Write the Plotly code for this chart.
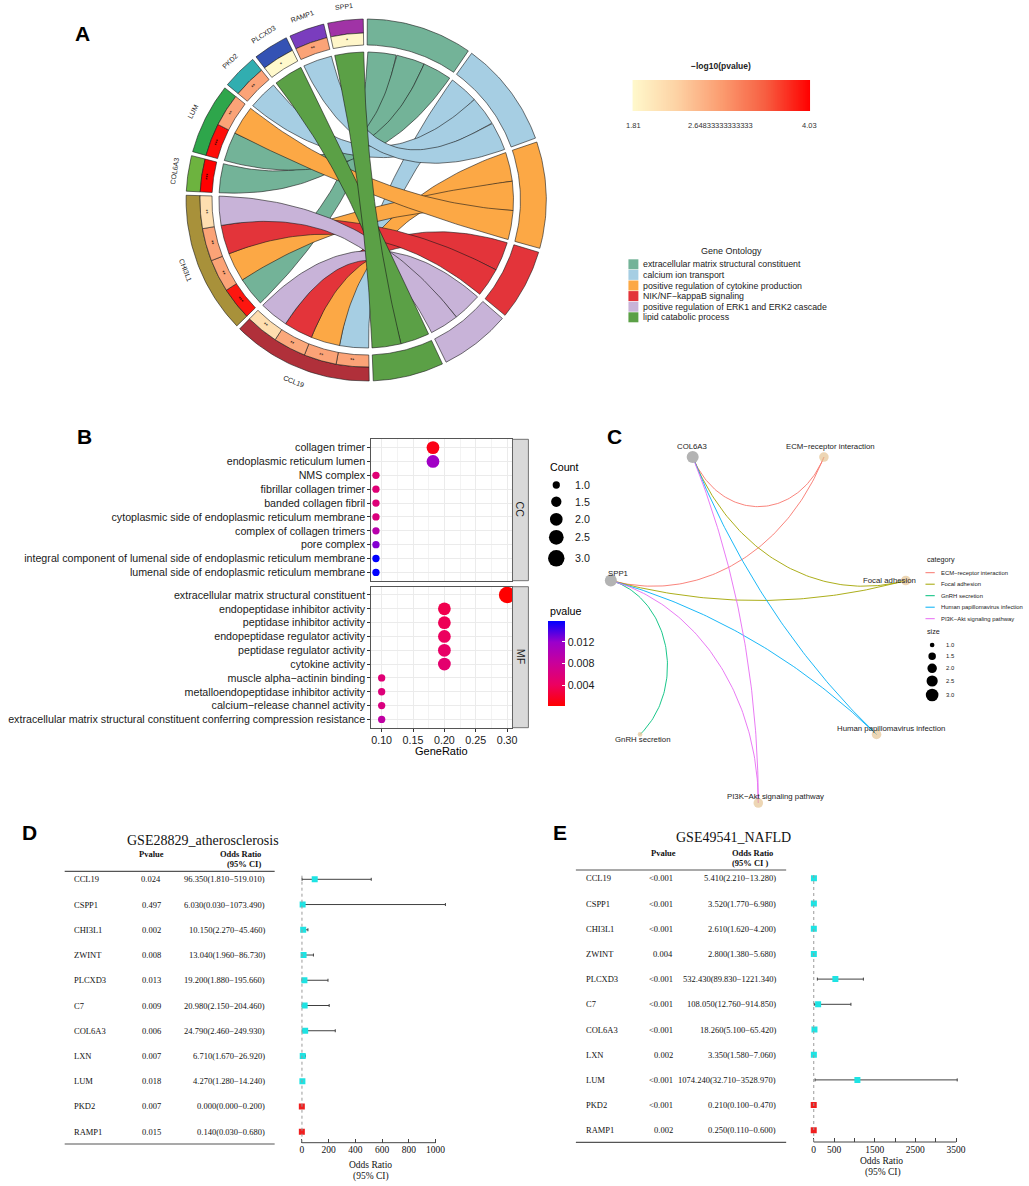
import numpy as np
import plotly.graph_objects as go

W, H = 1029, 1186
SANS = "Liberation Sans, Arial, sans-serif"
SERIF = "Liberation Serif, Times New Roman, serif"


def PX(x):
    return x / W


def PY(y):
    return 1 - y / H


def DX(a, b):
    return [a / W, b / W]


def DY(top, bot):
    return [1 - bot / H, 1 - top / H]


# ======================= Panel A data (GOChord) =======================
chord_genes = ["CCL19", "CHI3L1", "COL6A3", "LUM", "PKD2", "PLCXD3", "RAMP1", "SPP1"]
chord_gene_colors = ["#B0303A", "#A8913A", "#6DB33F", "#2EA64B", "#31AEB0", "#3452B4", "#7A3DBE", "#A033A6"]
go_terms = ["extracellular matrix structural constituent", "calcium ion transport",
            "positive regulation of cytokine production", "NIK/NF\u2212kappaB signaling",
            "positive regulation of ERK1 and ERK2 cascade", "lipid catabolic process"]
go_colors = ["#73B398", "#A6CEE3", "#FCA845", "#E3343A", "#C8B3D8", "#5BA046"]
link_gene = ["CCL19", "CCL19", "CCL19", "CCL19", "CHI3L1", "CHI3L1", "CHI3L1", "CHI3L1",
             "COL6A3", "LUM", "LUM", "PKD2", "PLCXD3", "RAMP1", "SPP1"]
link_term = [1, 2, 3, 4, 0, 2, 3, 4, 0, 0, 2, 1, 5, 1, 5]
link_logp = [2.85, 2.85, 2.80, 2.20, 3.90, 2.85, 2.85, 2.20, 4.03, 3.95, 2.85, 2.85, 1.81, 2.85, 1.85]
link_stars = ["**", "**", "**", "**", "***", "**", "**", "**", "***", "***", "**", "**", "*", "**", "*"]
logp_ticks = ["1.81", "2.64833333333333", "4.03"]

# ======================= Panel B data (dotplot) =======================
cc_terms = ["collagen trimer", "endoplasmic reticulum lumen", "NMS complex", "fibrillar collagen trimer",
            "banded collagen fibril", "cytoplasmic side of endoplasmic reticulum membrane",
            "complex of collagen trimers", "pore complex",
            "integral component of lumenal side of endoplasmic reticulum membrane",
            "lumenal side of endoplasmic reticulum membrane"]
cc_count = [2, 2, 1, 1, 1, 1, 1, 1, 1, 1]
cc_total = 11
cc_p = [0.0010, 0.0115, 0.0055, 0.0055, 0.0057, 0.0060, 0.0095, 0.0125, 0.0159, 0.0159]
mf_terms = ["extracellular matrix structural constituent", "endopeptidase inhibitor activity",
            "peptidase inhibitor activity", "endopeptidase regulator activity", "peptidase regulator activity",
            "cytokine activity", "muscle alpha\u2212actinin binding", "metalloendopeptidase inhibitor activity",
            "calcium\u2212release channel activity",
            "extracellular matrix structural constituent conferring compression resistance"]
mf_count = [3, 2, 2, 2, 2, 2, 1, 1, 1, 1]
mf_total = 10
mf_p = [0.0001, 0.0033, 0.0036, 0.0040, 0.0045, 0.0050, 0.0055, 0.0058, 0.0062, 0.0088]
count_legend = [1.0, 1.5, 2.0, 2.5, 3.0]
p_ticks = [0.004, 0.008, 0.012]

# ======================= Panel C data (cnetplot) =======================
kegg_terms = ["ECM\u2212receptor interaction", "Focal adhesion", "GnRH secretion",
              "Human papillomavirus infection", "PI3K\u2212Akt signaling pathway"]
kegg_colors = ["#F8766D", "#A3A500", "#00BF7D", "#00B0F6", "#E76BF3"]
kegg_members = [["COL6A3", "SPP1"], ["COL6A3", "SPP1"], ["SPP1"], ["COL6A3", "SPP1"], ["COL6A3", "SPP1"]]
cnet_genes = ["COL6A3", "SPP1"]
circle_order = ["PI3K\u2212Akt signaling pathway", "Human papillomavirus infection", "Focal adhesion",
                "ECM\u2212receptor interaction", "COL6A3", "SPP1", "GnRH secretion"]
size_legend = [1.0, 1.5, 2.0, 2.5, 3.0]

# ======================= Panels D / E data (forest) =======================
fp_genes = ["CCL19", "CSPP1", "CHI3L1", "ZWINT", "PLCXD3", "C7", "COL6A3", "LXN", "LUM", "PKD2", "RAMP1"]
d_p = ["0.024", "0.497", "0.002", "0.008", "0.013", "0.009", "0.006", "0.007", "0.018", "0.007", "0.015"]
d_or = [96.35, 6.03, 10.15, 13.04, 19.20, 20.98, 24.79, 6.71, 4.27, 0.000, 0.14]
d_lo = [1.81, 0.03, 2.27, 1.96, 1.88, 2.15, 2.46, 1.67, 1.28, 0.000, 0.03]
d_hi = [519.01, 1073.49, 45.46, 86.73, 195.66, 204.46, 249.93, 26.92, 14.24, 0.200, 0.68]
d_ticks = [0, 200, 400, 600, 800, 1000]
e_p = ["<0.001", "<0.001", "<0.001", "0.004", "<0.001", "<0.001", "<0.001", "0.002", "<0.001", "<0.001", "0.002"]
e_or = [5.41, 3.52, 2.61, 2.80, 532.43, 108.05, 18.26, 3.35, 1074.24, 0.21, 0.25]
e_lo = [2.21, 1.77, 1.62, 1.38, 89.83, 12.76, 5.10, 1.58, 32.71, 0.10, 0.11]
e_hi = [13.28, 6.98, 4.20, 5.68, 1221.34, 914.85, 65.42, 7.06, 3528.97, 0.47, 0.60]
e_ticks = [0, 500, 1000, 1500, 2000, 2500, 3000, 3500]
e_ticktext = ["0", "500", "", "1500", "", "2500", "", "3500"]

# ======================= helpers =======================
fig = go.Figure()
ann = []
shapes = []


def hex2rgb(h):
    h = h.lstrip("#")
    return [int(h[i:i + 2], 16) for i in (0, 2, 4)]


def interp_color(scale, t):
    t = min(max(t, 0), 1)
    for (p0, c0), (p1, c1) in zip(scale[:-1], scale[1:]):
        if t <= p1:
            f = 0 if p1 == p0 else (t - p0) / (p1 - p0)
            a, b = hex2rgb(c0), hex2rgb(c1)
            return "rgb(%d,%d,%d)" % tuple(round(a[i] + (b[i] - a[i]) * f) for i in range(3))
    return scale[-1][1]


def txt(x, y, s, size, color="#000000", family=SANS, xanchor="center", yanchor="middle",
        angle=0, xref="paper", yref="paper", xshift=0, yshift=0):
    ann.append(dict(x=x, y=y, text=s, showarrow=False, xref=xref, yref=yref, xanchor=xanchor,
                    yanchor=yanchor, textangle=angle, xshift=xshift, yshift=yshift,
                    font=dict(size=size, color=color, family=family)))


def ptxt(xp, yp, s, size, **kw):
    txt(PX(xp), PY(yp), s, size, **kw)


# ======================= Panel A: chord =======================
csA = [[0, "#FFF9CC"], [0.25, "#FDD2A4"], [0.5, "#FB9C70"], [0.75, "#F75E41"], [1, "#FF0000"]]
vmin, vmax = min(link_logp), max(link_logp)
R_OUT, R_MID, R_IN, R_RIB = 181, 167, 155, 148
GAP = 1.3
START = 270.95
n_links = len(link_gene)
unit = (360 - GAP * (len(chord_genes) + len(go_terms))) / (2 * n_links)


def arcpts(r, a0, a1, n=40):
    t = np.radians(np.linspace(a0, a1, n))
    return r * np.cos(t), r * np.sin(t)


def sector(r0, r1, a0, a1):
    xo, yo = arcpts(r1, a0, a1)
    xi, yi = arcpts(r0, a1, a0)
    return np.r_[xo, xi, xo[:1]], np.r_[yo, yi, yo[:1]]


ang = START
gene_units, gene_span = {}, []
for gname in chord_genes:
    idx = sorted([i for i in range(n_links) if link_gene[i] == gname], key=lambda i: link_term[i])
    hi = ang
    for i in idx:
        gene_units[i] = (ang, ang - unit)
        ang -= unit
    gene_span.append((hi, ang))
    ang -= GAP
term_slots, term_span = {}, []
for t in range(len(go_terms)):
    idx = sorted([i for i in range(n_links) if link_term[i] == t],
                 key=lambda i: chord_genes.index(link_gene[i]))
    hi = ang
    for i in idx:
        term_slots[i] = (ang, ang - unit)
        ang -= unit
    term_span.append((hi, ang))
    ang -= GAP


def fill_trace(x, y, color, lw=0.6, axis=("x", "y")):
    fig.add_trace(go.Scatter(x=x, y=y, mode="lines", fill="toself", fillcolor=color,
                             line=dict(color="#1a1a1a", width=lw), xaxis=axis[0], yaxis=axis[1],
                             hoverinfo="skip", showlegend=False))


s = np.linspace(0, 1, 60)
for i in sorted(range(n_links), key=lambda k: (link_term[k], k)):
    g0, g1 = gene_units[i]
    t0, t1 = term_slots[i]
    x1, y1 = arcpts(R_RIB, g0, g1)
    x3, y3 = arcpts(R_RIB, t0, t1)
    bx = (1 - s) ** 2 * x1[-1] + s ** 2 * x3[0]
    by = (1 - s) ** 2 * y1[-1] + s ** 2 * y3[0]
    dx = (1 - s) ** 2 * x3[-1] + s ** 2 * x1[0]
    dy = (1 - s) ** 2 * y3[-1] + s ** 2 * y1[0]
    fill_trace(np.r_[x1, bx, x3, dx], np.r_[y1, by, y3, dy], go_colors[link_term[i]], lw=0.6)

for k, (a0, a1) in enumerate(gene_span):
    x, y = sector(R_MID, R_OUT, a0, a1)
    fill_trace(x, y, chord_gene_colors[k])
for i in range(n_links):
    a0, a1 = gene_units[i]
    x, y = sector(R_IN, R_MID, a0, a1)
    fill_trace(x, y, interp_color(csA, (link_logp[i] - vmin) / (vmax - vmin)))
for k, (a0, a1) in enumerate(term_span):
    x, y = sector(R_IN, R_OUT, a0, a1)
    fill_trace(x, y, go_colors[k])


def tangent_angle(theta):
    theta = theta % 360
    return 90 - theta if theta <= 180 else 270 - theta


for k, (a0, a1) in enumerate(gene_span):
    m = (a0 + a1) / 2
    txt(195 * np.cos(np.radians(m)), 195 * np.sin(np.radians(m)), chord_genes[k], 7,
        color="#222222", xref="x", yref="y", angle=tangent_angle(m))
for i in range(n_links):
    m = sum(gene_units[i]) / 2
    txt(161 * np.cos(np.radians(m)), 161 * np.sin(np.radians(m)), link_stars[i], 5.5,
        xref="x", yref="y", angle=tangent_angle(m))

# colour bar for -log10(pvalue)
grad = np.linspace(vmin, vmax, 256)
fig.add_trace(go.Heatmap(z=[grad], x=grad, y=[0.5], xaxis="x2", yaxis="y2", showscale=False,
                         zmin=vmin, zmax=vmax, colorscale=csA, hoverinfo="skip"))
ptxt(724.7, 66, "<b>\u2212log10(pvalue)</b>", 8.5, color="#222222")
for xp, lab in zip([637, 724.4, 813.6], logp_ticks):
    ptxt(xp, 125, lab, 7.5, color="#333333")

# Gene Ontology legend
ptxt(735, 250.7, "Gene Ontology", 9, color="#222222")
for k, name in enumerate(go_terms):
    yc = 264.3 + 10.6 * k
    shapes.append(dict(type="rect", xref="paper", yref="paper", x0=PX(631.5), x1=PX(641.5),
                       y0=PY(yc + 5), y1=PY(yc - 5), fillcolor=go_colors[k], line=dict(width=0)))
    ptxt(644.5, yc, name, 8.8, color="#222222", xanchor="left")

# ======================= Panel B: dot plot =======================
cs_p = [[0, "#FF0000"], [0.25, "#EC0060"], [0.5, "#CA0099"], [0.75, "#9B00CB"], [1, "#0000FF"]]
D_MIN, D_MAX = 7.3, 16.5
B_FONT = 10.7


def dot_diam(c):
    return np.sqrt(D_MIN ** 2 + (D_MAX ** 2 - D_MIN ** 2) * (np.asarray(c, float) - 1) / 2)


for terms_, cnt, tot, pv, ax in [(cc_terms, cc_count, cc_total, cc_p, ("x3", "y3")),
                                  (mf_terms, mf_count, mf_total, mf_p, ("x4", "y4"))]:
    fig.add_trace(go.Scatter(x=np.array(cnt) / tot, y=terms_, mode="markers", xaxis=ax[0], yaxis=ax[1],
                             marker=dict(size=dot_diam(cnt), color=pv, coloraxis="coloraxis", line_width=0,
                                         opacity=1),
                             hoverinfo="skip", showlegend=False))

for (top, bot), lab in [((439.3, 580.7), "CC"), ((586.7, 727.7), "MF")]:
    shapes.append(dict(type="rect", xref="paper", yref="paper", x0=PX(515), x1=PX(531), y0=PY(bot),
                       y1=PY(top), fillcolor="#D9D9D9", line=dict(color="#555555", width=0.8)))
    ptxt(523, (top + bot) / 2, lab, B_FONT, color="#1a1a1a", angle=90)

ptxt(444, 751, "GeneRatio", 11, color="#000000")
ptxt(551, 466.7, "Count", B_FONT, xanchor="left")
for k, c in enumerate(count_legend):
    yc = [485, 501.7, 519.3, 537.3, 558.3][k]
    d = float(dot_diam(c))
    shapes.append(dict(type="circle", xref="paper", yref="paper", x0=PX(559 - d / 2), x1=PX(559 + d / 2),
                       y0=PY(yc + d / 2), y1=PY(yc - d / 2), fillcolor="black", line=dict(width=0)))
    ptxt(576, yc, "%.1f" % c, B_FONT, color="#1a1a1a", xanchor="left")
ptxt(551, 611, "pvalue", B_FONT, xanchor="left")

all_p = cc_p + mf_p

# ======================= Panel C: cnet plot =======================
n_nodes = len(circle_order)
node_ang = {name: np.radians(-90 + 360 * k / n_nodes) for k, name in enumerate(circle_order)}


def geodesic(a1, a2, n=90):
    d = (a2 - a1 + np.pi) % (2 * np.pi) - np.pi
    p1 = np.array([np.cos(a1), np.sin(a1)])
    p2 = np.array([np.cos(a2), np.sin(a2)])
    if abs(abs(d) - np.pi) < 1e-6:
        t = np.linspace(0, 1, n)
        return p1[0] + (p2[0] - p1[0]) * t, p1[1] + (p2[1] - p1[1]) * t
    m = a1 + d / 2
    h = abs(d) / 2
    c = np.array([np.cos(m), np.sin(m)]) / np.cos(h)
    rad = np.tan(h)
    f1 = np.arctan2(p1[1] - c[1], p1[0] - c[0])
    f2 = np.arctan2(p2[1] - c[1], p2[0] - c[0])
    df = (f2 - f1 + np.pi) % (2 * np.pi) - np.pi
    f = f1 + df * np.linspace(0, 1, n)
    return c[0] + rad * np.cos(f), c[1] + rad * np.sin(f)


for k, term in enumerate(kegg_terms):
    for gname in kegg_members[k]:
        ex, ey = geodesic(node_ang[gname], node_ang[term])
        fig.add_trace(go.Scatter(x=ex, y=ey, mode="lines", line=dict(color=kegg_colors[k], width=0.9),
                                 xaxis="x5", yaxis="y5", hoverinfo="skip", showlegend=False))

C_MIN, C_MAX = 4.7, 12.7


def cnet_diam(c):
    return np.sqrt(C_MIN ** 2 + (C_MAX ** 2 - C_MIN ** 2) * (np.asarray(c, float) - 1) / 2)


cat_counts = [len(m) for m in kegg_members]
fig.add_trace(go.Scatter(x=[np.cos(node_ang[t]) for t in kegg_terms], y=[np.sin(node_ang[t]) for t in kegg_terms],
                         mode="markers", marker=dict(size=cnet_diam(cat_counts), color="#E6C494", line_width=0),
                         xaxis="x5", yaxis="y5", hoverinfo="skip", showlegend=False))
fig.add_trace(go.Scatter(x=[np.cos(node_ang[g]) for g in cnet_genes], y=[np.sin(node_ang[g]) for g in cnet_genes],
                         mode="markers", marker=dict(size=12, color="#B3B3B3", line_width=0),
                         xaxis="x5", yaxis="y5", hoverinfo="skip", showlegend=False))
label_off = {"COL6A3": (-1, -10.5), "SPP1": (7.5, -7), "ECM\u2212receptor interaction": (7, -10.5),
             "Focal adhesion": (-16, -0.5), "Human papillomavirus infection": (14.5, -5.5),
             "GnRH secretion": (2.5, 5), "PI3K\u2212Akt signaling pathway": (17, -6)}
for name in circle_order:
    ox, oy = label_off[name]
    txt(np.cos(node_ang[name]), np.sin(node_ang[name]), name, 7.8, color="#1a1a1a", xref="x5", yref="y5",
        xshift=ox, yshift=-oy)

ptxt(930, 560, "category", 7.2, xanchor="left", color="#1a1a1a")
for k, term in enumerate(kegg_terms):
    yc = 572.7 + 11.5 * k
    shapes.append(dict(type="line", xref="paper", yref="paper", x0=PX(930), x1=PX(939.3), y0=PY(yc), y1=PY(yc),
                       line=dict(color=kegg_colors[k], width=1)))
    ptxt(944, yc, term, 5.9, xanchor="left", color="#1a1a1a")
ptxt(930, 631.7, "size", 7.2, xanchor="left", color="#1a1a1a")
for k, c in enumerate(size_legend):
    yc = [645, 656.3, 668.3, 681, 695][k]
    d = float(cnet_diam(c))
    shapes.append(dict(type="circle", xref="paper", yref="paper", x0=PX(936.7 - d / 2), x1=PX(936.7 + d / 2),
                       y0=PY(yc + d / 2), y1=PY(yc - d / 2), fillcolor="black", line=dict(width=0)))
    ptxt(948.3, yc, "%.1f" % c, 5.9, xanchor="left", color="#1a1a1a")


# ======================= Panels D / E: forest plots =======================
def forest(ax, p_, or_, lo_, hi_, title, ticks, ticktext, g):
    xa, ya = "x%d" % ax, "y%d" % ax
    or_a, lo_a, hi_a = np.array(or_), np.array(lo_), np.array(hi_)
    rows = np.arange(len(fp_genes))
    up = or_a >= 1
    for mask, col in [(up, "#1EE3E3"), (~up, "#F01E1E")]:
        fig.add_trace(go.Scatter(x=or_a[mask], y=rows[mask], xaxis=xa, yaxis=ya, mode="markers",
                                 marker=dict(symbol="square", size=6, color=col, line_width=0),
                                 error_x=dict(type="data", symmetric=False, array=(hi_a - or_a)[mask],
                                              arrayminus=(or_a - lo_a)[mask], color="#404040", thickness=1,
                                              width=1.5),
                                 hoverinfo="skip", showlegend=False))
    shapes.append(dict(type="line", xref=xa, yref="paper", x0=1, x1=1, y0=PY(g["bot"]), y1=PY(g["reftop"]),
                       line=dict(color="#9A9A9A", width=1, dash="dot")))
    shapes.append(dict(type="line", xref=xa, yref=ya + " domain", x0=ticks[0], x1=ticks[-1], y0=0, y1=0,
                       line=dict(color="#444444", width=1)))
    # table
    ptxt(g["title"][0], g["title"][1], title, 14, family=SERIF, color="#111111")
    ptxt(g["ph"][0], g["ph"][1], "<b>Pvalue</b>", 8.5, family=SERIF, color="#111111")
    ptxt(g["oh"][0], g["oh"][1], "<b>Odds Ratio</b>", 8.5, family=SERIF, color="#111111")
    ptxt(g["ci"][0], g["ci"][1], "<b>%s</b>" % g["ci_text"], 8.5, family=SERIF, color="#111111")
    for yl in (g["ltop"], g["lbot"]):
        shapes.append(dict(type="line", xref="paper", yref="paper", x0=PX(g["lx"][0]), x1=PX(g["lx"][1]),
                           y0=PY(yl), y1=PY(yl), line=dict(color="#555555", width=1.2)))
    for r, gname in enumerate(fp_genes):
        txt(PX(g["gx"]), r, gname, 8.5, family=SERIF, color="#111111", xanchor="left", yref=ya)
        txt(PX(g["px"]), r, p_[r], 8.5, family=SERIF, color="#111111", xanchor="right", yref=ya)
        txt(PX(g["orx"]), r, "%.3f(%.3f\u2212%.3f)" % (or_[r], lo_[r], hi_[r]), 8.5, family=SERIF,
            color="#111111", xanchor="right", yref=ya)
    ptxt(g["xl"][0], g["xl"][1], "Odds Ratio", 9.5, family=SERIF, color="#111111")
    ptxt(g["xl"][0] + 1, g["xl"][1] + 11.5, "(95% CI)", 9.5, family=SERIF, color="#111111")


geomD = dict(title=(204.3, 840), ph=(152, 854), oh=(241.7, 854), ci=(244.7, 864.3), ci_text="(95% CI)",
             lx=(65, 276), ltop=871.3, lbot=1144, gx=72.7, px=164, orx=268.3, bot=1142.7, reftop=874,
             xl=(372, 1165))
geomE = dict(title=(737.5, 837.7), ph=(666.7, 853), oh=(756.3, 853), ci=(753.8, 863.3), ci_text="(95% CI )",
             lx=(578.7, 790), ltop=870, lbot=1142.3, gx=587.3, px=678.3, orx=782.3, bot=1142, reftop=873,
             xl=(886, 1161))
forest(6, d_p, d_or, d_lo, d_hi, "GSE28829_atherosclerosis", d_ticks, [str(v) for v in d_ticks], geomD)
forest(7, e_p, e_or, e_lo, e_hi, "GSE49541_NAFLD", e_ticks, e_ticktext, geomE)

# panel letters
for lab, xp, yp in [("A", 83.3, 33.3), ("B", 84.6, 436.7), ("C", 617.7, 436.7), ("D", 30, 832.3), ("E", 563, 832)]:
    ptxt(xp, yp, "<b>%s</b>" % lab, 21, color="#000000")

# ======================= layout =======================
hid = dict(visible=False, fixedrange=True, showgrid=False, zeroline=False)
cat_y = dict(type="category", categoryorder="array", showgrid=True, gridcolor="#EBEBEB", gridwidth=0.8,
             ticks="outside", ticklen=3, tickcolor="#333333",
             tickfont=dict(size=B_FONT, family=SANS, color="#1a1a1a"),
             showline=True, mirror=True, linecolor="#555555", linewidth=0.8, zeroline=False, range=[9.6, -0.6])
geneRatio_x = dict(range=[0.0833, 0.3086], tick0=0.1, dtick=0.05, showgrid=True, gridcolor="#EBEBEB", gridwidth=0.8,
                   minor=dict(dtick=0.025, showgrid=True, gridcolor="#F3F3F3", gridwidth=0.4),
                   showline=True, mirror=True, linecolor="#555555", linewidth=0.8, zeroline=False)
forest_x = dict(ticks="inside", ticklen=4, tickcolor="#444444", tickwidth=1, showgrid=False, zeroline=False,
                showline=False, tickfont=dict(size=9.5, family=SERIF, color="#111111"), fixedrange=True)

dRow0, dStep = 879.3, 25.24
eRow0, eStep = 878.3, 25.2

fig.update_layout(
    width=W, height=H, margin=dict(l=0, r=0, t=0, b=0), paper_bgcolor="white", plot_bgcolor="white",
    showlegend=False, annotations=ann, shapes=shapes,
    xaxis=dict(domain=DX(148, 588), range=[-220, 220], anchor="y", **hid),
    yaxis=dict(domain=DY(0, 400), range=[-200, 200], anchor="x", **hid),
    xaxis2=dict(domain=DX(635.6, 814.2), range=[vmin, vmax], anchor="y2", **hid),
    yaxis2=dict(domain=DY(80, 111), range=[0, 1], anchor="x2", **hid),
    xaxis3=dict(domain=DX(373, 515), anchor="y3", showticklabels=False, ticks="", matches="x4", **geneRatio_x),
    yaxis3=dict(domain=DY(439.3, 580.7), anchor="x3", categoryarray=cc_terms, **cat_y),
    xaxis4=dict(domain=DX(373, 515), anchor="y4", ticks="outside", ticklen=3, tickcolor="#333333",
                tickformat=".2f", tickfont=dict(size=B_FONT, family=SANS, color="#1a1a1a"), **geneRatio_x),
    yaxis4=dict(domain=DY(586.7, 727.7), anchor="x4", categoryarray=mf_terms, **cat_y),
    xaxis5=dict(domain=DX(590, 934), range=[-1.1316, 1.1316], anchor="y5", **hid),
    yaxis5=dict(domain=DY(430, 812), range=[-1.0495, 1.0495], anchor="x5", **hid),
    xaxis6=dict(domain=DX(297, 452), range=[-46.9, 1106.4], anchor="y6", tickvals=d_ticks,
                ticktext=[str(v) for v in d_ticks], **forest_x),
    yaxis6=dict(domain=DY(872, 1142.7), range=[(1142.7 - dRow0) / dStep, (872 - dRow0) / dStep], anchor="x6", **hid),
    xaxis7=dict(domain=DX(812, 968), range=[-139.5, 3678.6], anchor="y7", tickvals=e_ticks, ticktext=e_ticktext,
                **forest_x),
    yaxis7=dict(domain=DY(870, 1142), range=[(1142 - eRow0) / eStep, (870 - eRow0) / eStep], anchor="x7", **hid),
    coloraxis=dict(cmin=min(all_p), cmax=max(all_p), colorscale=cs_p,
                   colorbar=dict(x=PX(550.8), xanchor="left", y=PY(663.5), yanchor="middle", len=85,
                                 lenmode="pixels", thickness=16.5, thicknessmode="pixels", outlinewidth=0,
                                 tickvals=p_ticks, ticktext=["%.3f" % v for v in p_ticks], ticks="inside",
                                 tickcolor="white", ticklen=3, xpad=0, ypad=0,
                                 tickfont=dict(size=B_FONT, family=SANS, color="#1a1a1a"))),
)

fig.write_html("out.html", config={"displayModeBar": False},
               post_script="document.body.style.margin='0px';document.body.style.overflow='hidden';")
